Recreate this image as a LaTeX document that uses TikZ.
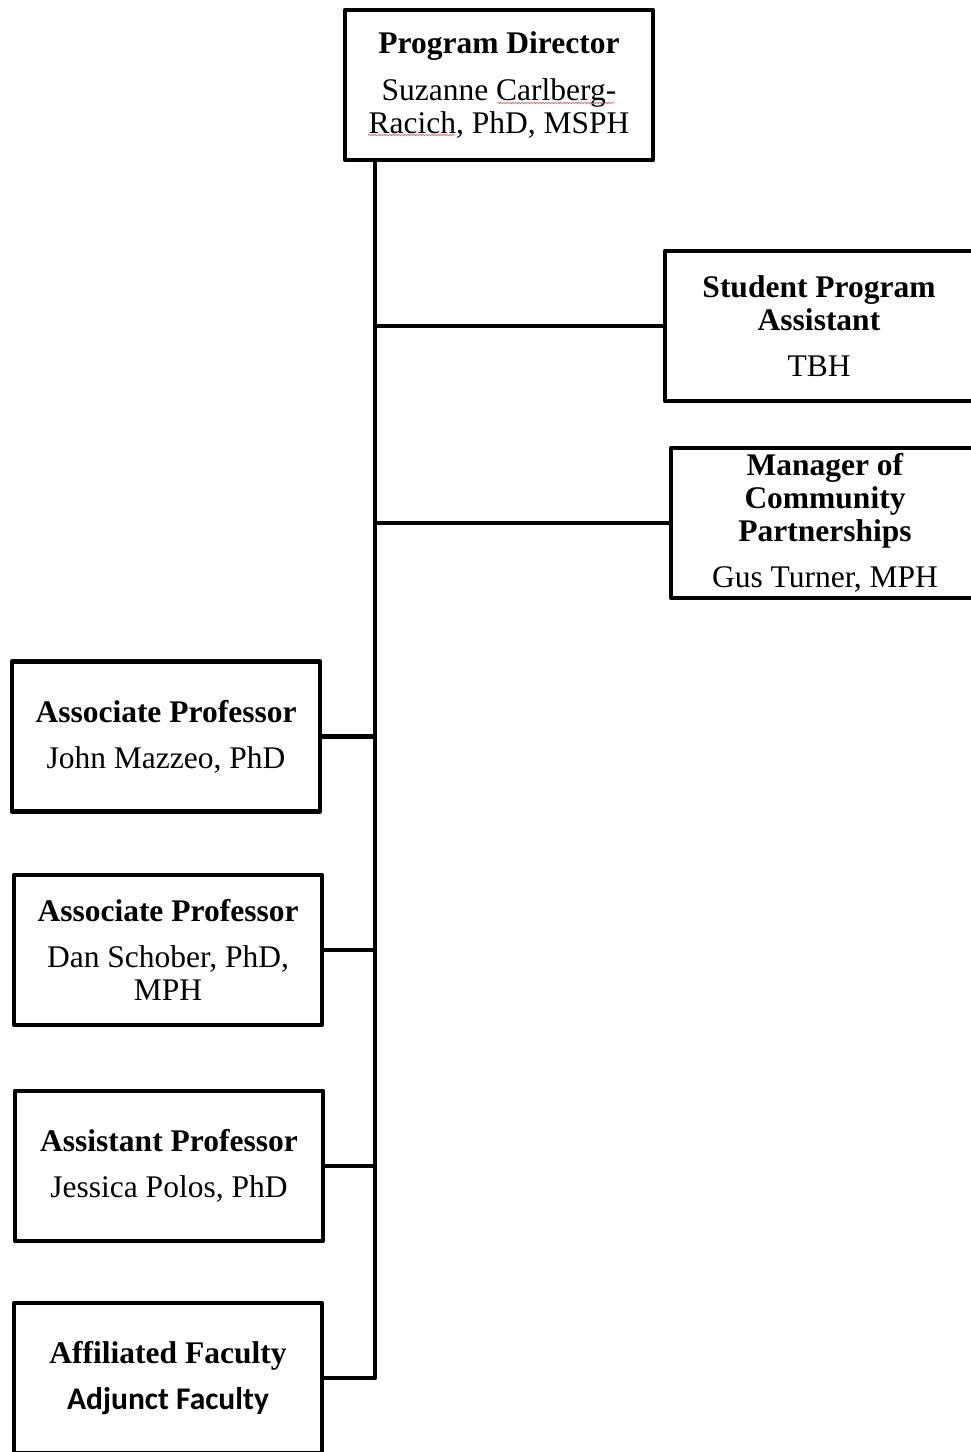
\documentclass[tikz,border=0pt]{standalone}
\usepackage{fontspec}
\setmainfont{Liberation Serif}
\newfontfamily\calfont{Carlito}
\usetikzlibrary{decorations.pathmorphing}
\begin{document}
\begin{tikzpicture}[x=1pt,y=-1pt,
  box/.style={draw, line width=4.8pt, line join=round, minimum width=308pt, minimum height=150pt,
    align=center, inner sep=0pt, font=\fontsize{31.5}{33}\selectfont},
  link/.style={line width=4.5pt, line join=round},
  spell/.style={draw=red!70, line width=0.6pt, decorate, decoration={snake, amplitude=0.7pt, segment length=3pt}}]
\useasboundingbox (0,0) rectangle (971,1452);
\node[box] (pd)  at (499,85)    {\textbf{Program Director}\\[14pt]Suzanne Carlberg-\\Racich, PhD, MSPH};
\node[box] (spa) at (819,326)   {\textbf{Student Program}\\\textbf{Assistant}\\[13pt]TBH};
\node[box] (mcp) at (825,523)   {\textbf{Manager of}\\\textbf{Community}\\\textbf{Partnerships}\\[13pt]Gus Turner, MPH};
\node[box] (ap1) at (166,736.5) {\textbf{Associate Professor}\\[13pt]John Mazzeo, PhD};
\node[box] (ap2) at (168,950)   {\textbf{Associate Professor}\\[13pt]Dan Schober, PhD,\\MPH};
\node[box] (asp) at (169,1166)  {\textbf{Assistant Professor}\\[13pt]Jessica Polos, PhD};
\node[box] (aff) at (168,1378)  {\textbf{Affiliated Faculty}\\[13pt]{\calfont\bfseries Adjunct Faculty}};
\coordinate (top) at (375,0 |- pd.south);
\coordinate (bot) at (375,1378);
\draw[link] (top) -- (bot) -- (aff.east);
\draw[link] (top |- spa.west) -- (spa.west);
\draw[link] (top |- mcp.west) -- (mcp.west);
\draw[link] (top |- ap1.east) -- (ap1.east);
\draw[link] (top |- ap2.east) -- (ap2.east);
\draw[link] (top |- asp.east) -- (asp.east);
\coordinate (s1a) at (497,103); \coordinate (s1b) at (614,103);
\coordinate (s2a) at (368,135); \coordinate (s2b) at (455,135);
\draw[spell] (s1a) -- (s1b);
\draw[spell] (s2a) -- (s2b);
\end{tikzpicture}
\end{document}
